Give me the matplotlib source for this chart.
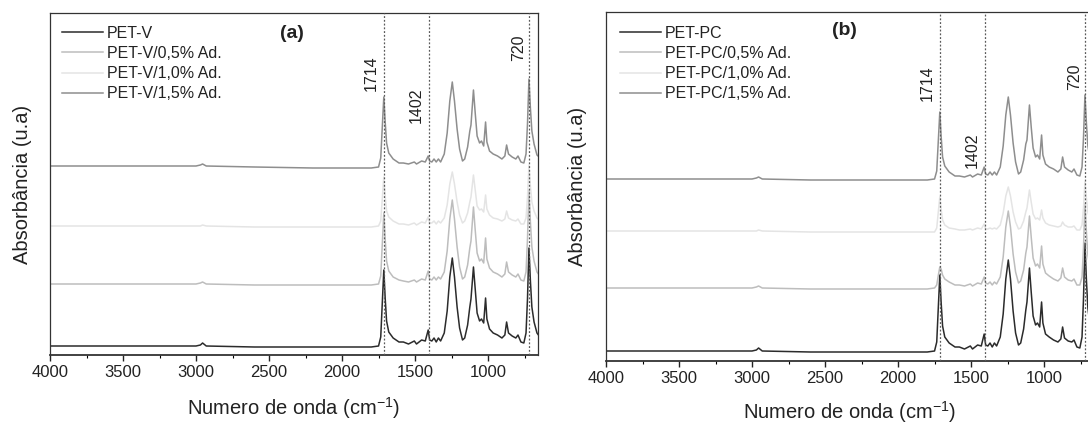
import matplotlib
matplotlib.use("Agg")
import matplotlib.pyplot as plt
from matplotlib.ticker import MultipleLocator, NullLocator

plt.rcParams["font.family"] = ["Liberation Sans", "DejaVu Sans"]
plt.rcParams["mathtext.default"] = "regular"

# Wavenumber grid (cm^-1) shared by all spectra
WN = [4000, 3600, 3200, 3000, 2970, 2955, 2930, 2600, 2200, 1800,
      1750, 1735, 1725, 1714, 1705, 1695, 1680, 1650, 1610, 1580,
      1545, 1505, 1490, 1455, 1430, 1410, 1400, 1385, 1370, 1355,
      1340, 1325, 1300, 1280, 1262, 1245, 1230, 1212, 1195, 1175,
      1160, 1140, 1125, 1117, 1100, 1088, 1075, 1058, 1045, 1030,
      1017, 1008, 990, 965, 935, 905, 885, 873, 860, 835,
      810, 795, 775, 755, 740, 730, 720, 710, 700, 685,
      665, 650]

# Panel (a): virgin PET with additive
PET_V = [0.01, 0.01, 0.01, 0.01, 0.02, 0.04, 0.01, 0.00, 0.00, 0.00,
         0.01, 0.10, 0.42, 0.77, 0.50, 0.26, 0.15, 0.09, 0.05, 0.05,
         0.03, 0.06, 0.03, 0.07, 0.06, 0.17, 0.07, 0.06, 0.09, 0.05,
         0.09, 0.06, 0.14, 0.36, 0.70, 0.89, 0.70, 0.40, 0.19, 0.07,
         0.09, 0.22, 0.40, 0.48, 0.80, 0.58, 0.34, 0.26, 0.28, 0.24,
         0.49, 0.28, 0.18, 0.14, 0.12, 0.09, 0.12, 0.25, 0.14, 0.11,
         0.09, 0.12, 0.05, 0.04, 0.14, 0.48, 0.99, 0.66, 0.40, 0.25,
         0.14, 0.11]
PET_V_05 = [0.01, 0.01, 0.01, 0.01, 0.02, 0.03, 0.01, 0.00, 0.00, 0.00,
            0.01, 0.09, 0.39, 0.72, 0.47, 0.24, 0.14, 0.08, 0.05, 0.04,
            0.03, 0.05, 0.03, 0.06, 0.05, 0.14, 0.06, 0.05, 0.08, 0.05,
            0.08, 0.06, 0.13, 0.34, 0.66, 0.85, 0.66, 0.38, 0.18, 0.06,
            0.08, 0.20, 0.37, 0.44, 0.78, 0.55, 0.32, 0.24, 0.26, 0.22,
            0.47, 0.26, 0.17, 0.13, 0.11, 0.08, 0.11, 0.23, 0.13, 0.10,
            0.08, 0.11, 0.05, 0.04, 0.13, 0.46, 0.95, 0.63, 0.38, 0.24,
            0.13, 0.10]
PET_V_10 = [0.01, 0.01, 0.01, 0.01, 0.01, 0.02, 0.01, 0.00, 0.00, 0.00,
            0.01, 0.06, 0.27, 0.50, 0.32, 0.16, 0.10, 0.06, 0.03, 0.03,
            0.02, 0.04, 0.02, 0.05, 0.04, 0.10, 0.04, 0.04, 0.06, 0.03,
            0.06, 0.04, 0.09, 0.22, 0.43, 0.55, 0.43, 0.25, 0.12, 0.04,
            0.06, 0.14, 0.25, 0.30, 0.52, 0.37, 0.21, 0.17, 0.18, 0.15,
            0.32, 0.18, 0.12, 0.09, 0.08, 0.06, 0.08, 0.16, 0.09, 0.07,
            0.06, 0.08, 0.03, 0.03, 0.09, 0.30, 0.62, 0.41, 0.25, 0.16,
            0.09, 0.07]
PET_V_15 = [0.01, 0.01, 0.01, 0.01, 0.02, 0.03, 0.01, 0.00, -0.01, -0.01,
            0.00, 0.09, 0.38, 0.70, 0.46, 0.24, 0.14, 0.08, 0.04, 0.04,
            0.03, 0.05, 0.03, 0.06, 0.05, 0.11, 0.06, 0.05, 0.08, 0.05,
            0.08, 0.05, 0.13, 0.34, 0.66, 0.85, 0.66, 0.38, 0.18, 0.06,
            0.08, 0.20, 0.36, 0.42, 0.77, 0.54, 0.31, 0.24, 0.26, 0.21,
            0.45, 0.25, 0.16, 0.13, 0.11, 0.08, 0.11, 0.22, 0.13, 0.10,
            0.08, 0.11, 0.05, 0.04, 0.13, 0.43, 0.88, 0.59, 0.36, 0.23,
            0.12, 0.10]

# Panel (b): post-consumer PET with additive
PET_PC = [0.01, 0.01, 0.01, 0.01, 0.02, 0.04, 0.01, 0.00, 0.00, 0.00,
          0.01, 0.10, 0.42, 0.77, 0.50, 0.26, 0.15, 0.09, 0.05, 0.05,
          0.03, 0.06, 0.03, 0.07, 0.06, 0.18, 0.07, 0.06, 0.09, 0.05,
          0.09, 0.06, 0.15, 0.38, 0.73, 0.92, 0.73, 0.41, 0.19, 0.07,
          0.09, 0.23, 0.42, 0.50, 0.84, 0.60, 0.36, 0.27, 0.29, 0.25,
          0.50, 0.29, 0.18, 0.15, 0.12, 0.10, 0.13, 0.25, 0.14, 0.11,
          0.10, 0.12, 0.05, 0.04, 0.15, 0.53, 1.09, 0.72, 0.44, 0.27,
          0.15, 0.12]
PET_PC_05 = [0.01, 0.01, 0.01, 0.01, 0.02, 0.03, 0.01, 0.00, 0.00, 0.00,
             0.01, 0.04, 0.13, 0.22, 0.20, 0.14, 0.10, 0.07, 0.04, 0.04,
             0.03, 0.05, 0.03, 0.06, 0.05, 0.12, 0.06, 0.05, 0.07, 0.04,
             0.07, 0.05, 0.12, 0.32, 0.62, 0.78, 0.62, 0.35, 0.17, 0.06,
             0.08, 0.19, 0.36, 0.42, 0.73, 0.52, 0.31, 0.23, 0.25, 0.21,
             0.43, 0.25, 0.16, 0.13, 0.10, 0.08, 0.11, 0.21, 0.12, 0.09,
             0.08, 0.10, 0.04, 0.04, 0.12, 0.41, 0.85, 0.57, 0.34, 0.21,
             0.12, 0.10]
PET_PC_10 = [0.01, 0.01, 0.01, 0.01, 0.01, 0.02, 0.01, 0.00, 0.00, 0.00,
             0.00, 0.04, 0.19, 0.35, 0.23, 0.12, 0.07, 0.04, 0.03, 0.02,
             0.02, 0.03, 0.02, 0.04, 0.03, 0.08, 0.03, 0.03, 0.04, 0.03,
             0.04, 0.03, 0.07, 0.19, 0.36, 0.45, 0.36, 0.20, 0.10, 0.03,
             0.04, 0.11, 0.20, 0.24, 0.42, 0.30, 0.18, 0.13, 0.14, 0.12,
             0.22, 0.14, 0.09, 0.07, 0.06, 0.05, 0.06, 0.10, 0.07, 0.05,
             0.05, 0.06, 0.02, 0.02, 0.07, 0.24, 0.50, 0.34, 0.20, 0.12,
             0.07, 0.06]
PET_PC_15 = [0.01, 0.01, 0.01, 0.01, 0.02, 0.03, 0.01, 0.00, 0.00, 0.00,
             0.01, 0.09, 0.37, 0.68, 0.44, 0.23, 0.14, 0.08, 0.04, 0.04,
             0.03, 0.05, 0.03, 0.06, 0.05, 0.13, 0.06, 0.05, 0.08, 0.05,
             0.08, 0.05, 0.13, 0.34, 0.65, 0.83, 0.65, 0.37, 0.18, 0.06,
             0.08, 0.20, 0.36, 0.40, 0.75, 0.53, 0.32, 0.23, 0.25, 0.21,
             0.45, 0.25, 0.16, 0.13, 0.11, 0.08, 0.11, 0.23, 0.13, 0.10,
             0.08, 0.11, 0.05, 0.04, 0.13, 0.42, 0.85, 0.57, 0.34, 0.21,
             0.12, 0.10]

LABELS_A = ["PET-V", "PET-V/0,5% Ad.", "PET-V/1,0% Ad.", "PET-V/1,5% Ad."]
LABELS_B = ["PET-PC", "PET-PC/0,5% Ad.", "PET-PC/1,0% Ad.", "PET-PC/1,5% Ad."]
BANDS = [1714, 1402, 720]

# Vertical stacking offsets of the spectra
OFFSETS_A = [0.08, 0.70, 1.28, 1.88]
OFFSETS_B = [0.09, 0.72, 1.29, 1.81]

COLORS = ["#2b2b2b", "#bdbdbd", "#e4e4e4", "#8e8e8e"]

fig = plt.figure(figsize=(10.88, 4.23), dpi=100)
ax_a = fig.add_axes([50 / 1088, 68 / 423, 488 / 1088, 342 / 423])
ax_b = fig.add_axes([606 / 1088, 62 / 423, 488 / 1088, 349 / 423])


def draw_panel(ax, series, labels, offsets, ylim, tag, tag_xy,
               band_y, legend_anchor, ylab_x, xlab_y):
    for spec, lab, off, col in zip(series, labels, offsets, COLORS):
        ax.plot(WN, [v + off for v in spec], color=col, lw=1.1, label=lab)
    for band, yb, dx in zip(BANDS, band_y, [-13, -13, -10]):
        ax.axvline(band, color="#5a5a5a", lw=0.9, ls=(0, (1.5, 1.5)), zorder=5)
        ax.annotate(str(band), xy=(band, yb), xycoords=("data", "axes fraction"),
                    xytext=(dx * 0.72, 0), textcoords="offset points",
                    rotation=90, ha="center", va="center", fontsize=11.5,
                    color="#222222")
    ax.set_xlim(4000, 658)
    ax.set_ylim(*ylim)
    ax.xaxis.set_major_locator(MultipleLocator(500))
    ax.xaxis.set_minor_locator(MultipleLocator(250))
    ax.yaxis.set_major_locator(NullLocator())
    ax.tick_params(axis="x", which="major", direction="out", length=4.5,
                   width=1.0, pad=2.5, labelsize=12, colors="#222222")
    ax.tick_params(axis="x", which="minor", direction="out", length=2.5,
                   width=0.8)
    for sp in ax.spines.values():
        sp.set_color("#333333")
        sp.set_linewidth(0.9)
    ax.spines["bottom"].set_linewidth(1.3)
    ax.set_xlabel("Numero de onda (cm$^{-1}$)", fontsize=14.5, color="#222222",
                  va="center")
    ax.xaxis.set_label_coords(0.5, xlab_y)
    ax.set_ylabel("Absorbância (u.a)", fontsize=14.5, color="#222222")
    ax.yaxis.set_label_coords(ylab_x, 0.5)
    ax.text(tag_xy[0], tag_xy[1], tag, transform=ax.transAxes, fontsize=14,
            fontweight="bold", ha="center", va="center", color="#222222")
    ax.legend(loc="upper left", bbox_to_anchor=legend_anchor, frameon=False,
              fontsize=11.5, handlelength=2.55, handletextpad=0.25,
              labelspacing=0.33, borderpad=0, borderaxespad=0,
              labelcolor="#222222")


draw_panel(ax_a, [PET_V, PET_V_05, PET_V_10, PET_V_15], LABELS_A, OFFSETS_A,
           (0, 3.42), "(a)", (0.496, 0.94), [0.825, 0.731, 0.898],
           (0.0246, 0.963), -0.037, -0.155)
draw_panel(ax_b, [PET_PC, PET_PC_05, PET_PC_10, PET_PC_15], LABELS_B, OFFSETS_B,
           (0, 3.49), "(b)", (0.488, 0.948), [0.797, 0.605, 0.814],
           (0.0287, 0.961), -0.039, -0.146)

fig.savefig("out.png", dpi=100)
